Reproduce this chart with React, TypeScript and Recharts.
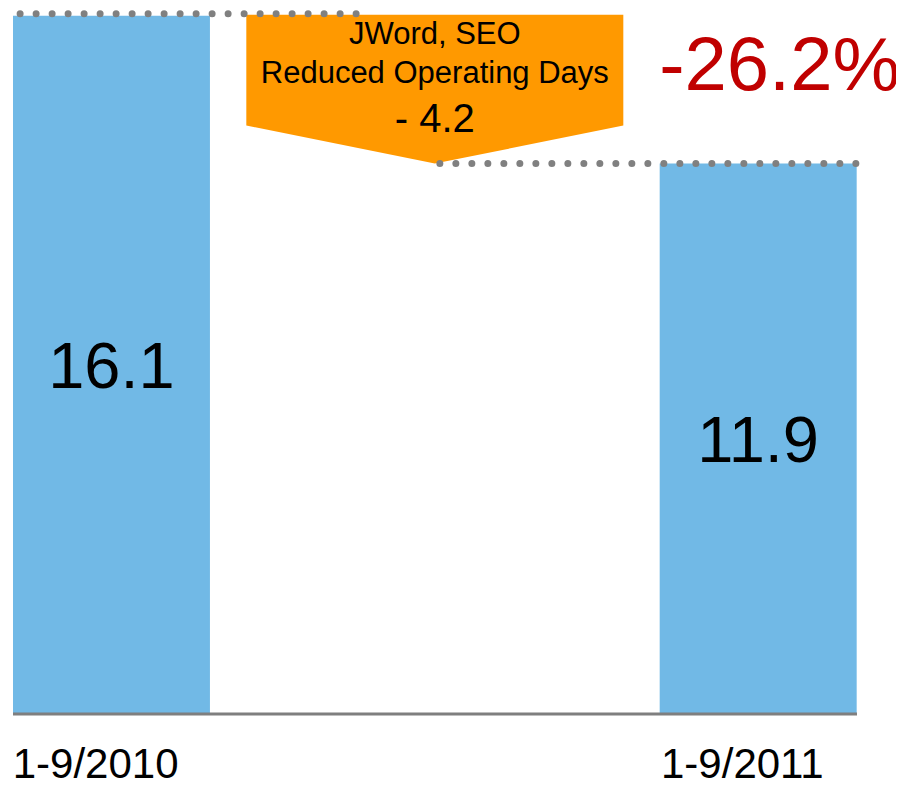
import React from 'react';
import {
  BarChart,
  Bar,
  XAxis,
  YAxis,
  LabelList,
  ReferenceLine,
  Rectangle,
  Customized,
} from 'recharts';

// waterfall: start total, change, end total
const categories = ['1-9/2010', 'JWord, SEO', '1-9/2011'];
const positions = [0.5, 1.5, 2.5];
const totals: (number | null)[] = [16.1, null, 11.9];
const calloutLines = ['JWord, SEO', 'Reduced Operating Days'];
const change = -4.2;
const changePct = -26.2;

// the original graphic does not start its bars at zero
const Y_FLOOR = -3.75;
const Y_CEIL = 16.55;

const BLUE = '#71B9E6';
const ORANGE = '#FF9900';
const DOT = '#808080';
const FONT = '"Liberation Sans", Arial, Helvetica, sans-serif';

const startValue = totals[0] as number;
const endValue = totals[2] as number;

const data = categories.map((name, i) => ({
  name,
  pos: positions[i],
  value: totals[i],
  kind: totals[i] == null ? 'change' : 'total',
  range: totals[i] == null ? [endValue, startValue] : [Y_FLOOR, totals[i]],
}));

function Callout({ x, y, width, height }: any) {
  const cx = x + width / 2;
  const half = 188.5;
  const top = y - 1;
  const tip = y + height;
  const shoulder = tip - 38;
  const points = [
    [cx - half, top],
    [cx + half, top],
    [cx + half, shoulder],
    [cx, tip],
    [cx - half, shoulder],
  ]
    .map((p) => p.join(','))
    .join(' ');
  return (
    <g>
      <polygon points={points} fill={ORANGE} />
      <text x={cx} y={y + 28} textAnchor="middle" fontSize={31} fill="#000">
        {calloutLines[0]}
      </text>
      <text x={cx} y={y + 67} textAnchor="middle" fontSize={31} fill="#000">
        {calloutLines[1]}
      </text>
      <text x={cx} y={y + 116} textAnchor="middle" fontSize={40} fill="#000">
        {`- ${Math.abs(change)}`}
      </text>
    </g>
  );
}

function BarShape(props: any) {
  if (props.payload?.kind === 'change') return <Callout {...props} />;
  return <Rectangle {...props} fill={BLUE} />;
}

function CategoryTick({ x, y, payload }: any) {
  const idx = positions.indexOf(payload.value);
  return (
    <text x={x - 16} y={y + 64} textAnchor="middle" fontSize={42} fill="#000">
      {categories[idx]}
    </text>
  );
}

function ChangeBadge() {
  return (
    <text x={900} y={90} textAnchor="end" fontSize={76} fill="#C00000">
      {`${changePct.toFixed(1)}%`}
    </text>
  );
}

export default function App() {
  return (
    <div style={{ width: 904, height: 787, margin: -8, fontFamily: FONT, background: '#fff' }}>
      <BarChart
        width={904}
        height={787}
        data={data}
        margin={{ top: 0, right: 47, left: 13, bottom: 0 }}
      >
        <XAxis
          type="number"
          dataKey="pos"
          domain={[0.195, 2.805]}
          allowDataOverflow
          ticks={[0.5, 2.5]}
          interval={0}
          tickLine={false}
          tickSize={0}
          tickMargin={0}
          axisLine={{ stroke: '#7F7F7F', strokeWidth: 3 }}
          tick={<CategoryTick />}
          height={73}
        />
        <YAxis hide domain={[Y_FLOOR, Y_CEIL]} allowDataOverflow />
        <Bar dataKey="range" barSize={197} shape={BarShape} isAnimationActive={false}>
          <LabelList dataKey="value" position="center" fontSize={65} fill="#000" />
        </Bar>
        <ReferenceLine
          segment={[
            { x: 0.217, y: startValue },
            { x: 1.26, y: startValue },
          ]}
          ifOverflow="visible"
          stroke={DOT}
          strokeWidth={7}
          strokeLinecap="round"
          strokeDasharray="0 16"
          transform="translate(0,-2)"
        />
        <ReferenceLine
          segment={[
            { x: 1.515, y: endValue },
            { x: 2.805, y: endValue },
          ]}
          ifOverflow="visible"
          stroke={DOT}
          strokeWidth={7}
          strokeLinecap="round"
          strokeDasharray="0 16"
        />
        <Customized component={ChangeBadge} />
      </BarChart>
    </div>
  );
}
